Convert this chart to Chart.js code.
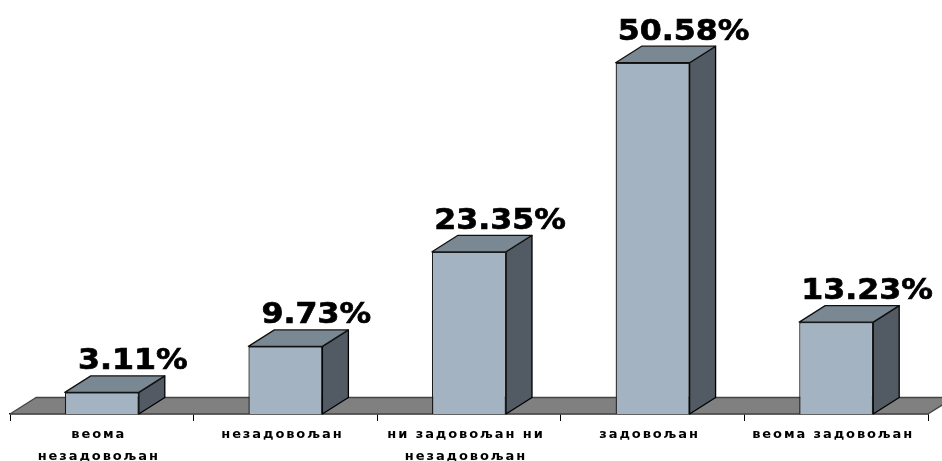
<!DOCTYPE html>
<html><head><meta charset="utf-8">
<style>html,body{margin:0;padding:0;background:#fff;overflow:hidden}canvas{display:block}</style>
<script src="https://cdn.jsdelivr.net/npm/chart.js@4"></script>
</head><body><canvas id="c" width="942" height="461"></canvas>
<script>
const categories = [["веома","незадовољан"],"незадовољан",["ни задовољан ни","незадовољан"],"задовољан","веома задовољан"];
const values = [3.11, 9.73, 23.35, 50.58, 13.23];
const valueLabels = ["3.11%","9.73%","23.35%","50.58%","13.23%"];
const DX = 26, DY = 16.5;
function poly(ctx, pts, fill, stroke){
  ctx.beginPath();
  pts.forEach((p,i)=> i?ctx.lineTo(p[0],p[1]):ctx.moveTo(p[0],p[1]));
  ctx.closePath();
  ctx.fillStyle = fill; ctx.fill();
  ctx.strokeStyle = stroke; ctx.lineWidth = 1.3; ctx.lineJoin='round'; ctx.stroke();
}
const threeD = {
  id:'threeD',
  beforeDraw(chart){ chart.ctx.letterSpacing='1.9px'; },
  beforeDatasetsDraw(chart){
    const {ctx, chartArea:a} = chart;
    ctx.save();
    ctx.letterSpacing='0px';
    poly(ctx, [[a.left,a.bottom],[a.left+DX,a.bottom-DY],[a.right+DX,a.bottom-DY],[a.right,a.bottom]], '#808080', '#444');
    chart.getDatasetMeta(0).data.forEach(b=>{
      const l=b.x-b.width/2, r=b.x+b.width/2, t=b.y, bt=b.base;
      poly(ctx, [[r,t],[r+DX,t-DY],[r+DX,bt-DY],[r,bt]], '#525B63', '#000');
      poly(ctx, [[l,t],[l+DX,t-DY],[r+DX,t-DY],[r,t]], '#7A8894', '#111');
    });
    ctx.restore();
  },
  afterDatasetsDraw(chart){
    const {ctx} = chart;
    ctx.letterSpacing='0px';
    chart.getDatasetMeta(0).data.forEach((b,i)=>{
      ctx.save();
      ctx.translate(b.x+31, b.y-30.5);
      ctx.scale(1.09,1);
      ctx.font='bold 29px "DejaVu Sans"';
      ctx.fillStyle='#000'; ctx.strokeStyle='#000'; ctx.lineWidth=0.7;
      ctx.textAlign='center'; ctx.textBaseline='middle';
      ctx.fillText(valueLabels[i], 0, 0);
      ctx.strokeText(valueLabels[i], 0, 0);
      ctx.restore();
    });
    ctx.letterSpacing='1.9px';
  }
};
new Chart(document.getElementById('c'),{
  type:'bar',
  data:{labels:categories,datasets:[{data:values,backgroundColor:'#A3B3C2',borderColor:'#1a1a1a',borderWidth:1.3,barPercentage:0.403,categoryPercentage:1}]},
  options:{
    responsive:false,animation:false,
    layout:{padding:{left:10,right:14,top:32,bottom:0}},
    plugins:{legend:{display:false},tooltip:{enabled:false}},
    scales:{
      y:{display:false,min:0,max:55},
      x:{
        afterFit(s){s.height=47;},
        border:{color:'#000',width:1.3},
        grid:{drawOnChartArea:false,drawTicks:true,tickLength:7,tickColor:'#000',offset:true},
        ticks:{color:'#000',maxRotation:0,autoSkip:false,padding:3,labelOffset:-3,font:{family:'"DejaVu Sans"',size:13,weight:'bold',lineHeight:1.65}}
      }
    }
  },
  plugins:[threeD]
});
</script></body></html>
